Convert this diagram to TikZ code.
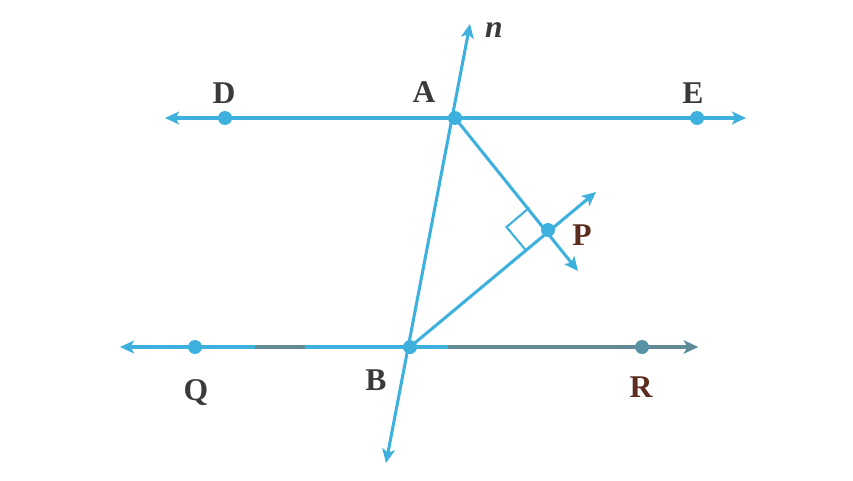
\documentclass[tikz,border=0pt]{standalone}
\usepackage{fontspec}
\setmainfont{Liberation Serif}
\usetikzlibrary{arrows.meta,calc}
\definecolor{lineblue}{RGB}{62,176,222}
\definecolor{grayteal}{RGB}{96,138,150}
\definecolor{labelgray}{RGB}{58,58,58}
\definecolor{labelbrown}{RGB}{92,44,30}

\begin{document}
\begin{tikzpicture}[x=0.03cm,y=-0.03cm,
  line/.style={draw=lineblue,line width=2.6pt},
  ray/.style={line,-{Stealth[length=12pt,width=11pt,inset=3pt]}},
  bothray/.style={line,{Stealth[length=12pt,width=11pt,inset=3pt]}-{Stealth[length=12pt,width=11pt,inset=3pt]}},
  dot/.style={circle,fill=lineblue,inner sep=0pt,minimum size=0.42cm},
  lbl/.style={text=labelgray,font=\fontsize{27}{29}\selectfont\bfseries}]
\useasboundingbox (0,0) rectangle (853,480);

% points
\coordinate (A) at (455,118);
\coordinate (B) at (410,347);
\coordinate (D) at (225,118);
\coordinate (E) at (697,118);
\coordinate (Q) at (195,347);
\coordinate (R) at (642,347);
\coordinate (P) at (548,230);

% ends of the lines
\coordinate (DEl) at (165,118);
\coordinate (DEr) at (746,118);
\coordinate (QRl) at (120,347);
\coordinate (QRr) at (698,347);
\coordinate (ntop) at (470,24);
\coordinate (nbot) at (386,463);
\coordinate (APend) at (578,271);
\coordinate (BPend) at (596,192);

\draw[bothray] (DEl) -- (DEr);
\draw[bothray] (QRl) -- (QRr);
\draw[line,draw=grayteal] (255,347) -- (305,347);
\draw[line,draw=grayteal] (448,347) -- (R);
\draw[line,draw=grayteal,-{Stealth[length=12pt,width=11pt,inset=3pt]}] (R) -- (QRr);
\draw[bothray] (nbot) -- (ntop);
\draw[ray] (A) -- (APend);
\draw[ray] (B) -- (BPend);

% right angle at P
\coordinate (s1) at ($(P)!0.2!(A)$);
\coordinate (s2) at ($(P)!0.166!(B)$);
\draw[line,line width=1.8pt] (s1) -- ($(s1)+(s2)-(P)$) -- (s2);

\node[dot] (dA) at (A) {};
\node[dot] (dB) at (B) {};
\node[dot] (dD) at (D) {};
\node[dot] (dE) at (E) {};
\node[dot] (dQ) at (Q) {};
\node[dot,fill=grayteal!80!lineblue] (dR) at (R) {};
\node[dot] (dP) at (P) {};

\node[lbl] (lD) at (224,93) {D};
\node[lbl] (lA) at (424,92) {A};
\node[lbl] (lE) at (693,93) {E};
\node[lbl] (lQ) at (196,393) {Q};
\node[lbl] (lB) at (376,380) {B};
\node[lbl,text=labelbrown] (lR) at (641,387) {R};
\node[lbl,text=labelbrown] (lP) at (582,235) {P};
\node[lbl,font=\fontsize{27}{29}\selectfont\bfseries\itshape] (ln) at (494,30) {n};
\end{tikzpicture}
\end{document}
